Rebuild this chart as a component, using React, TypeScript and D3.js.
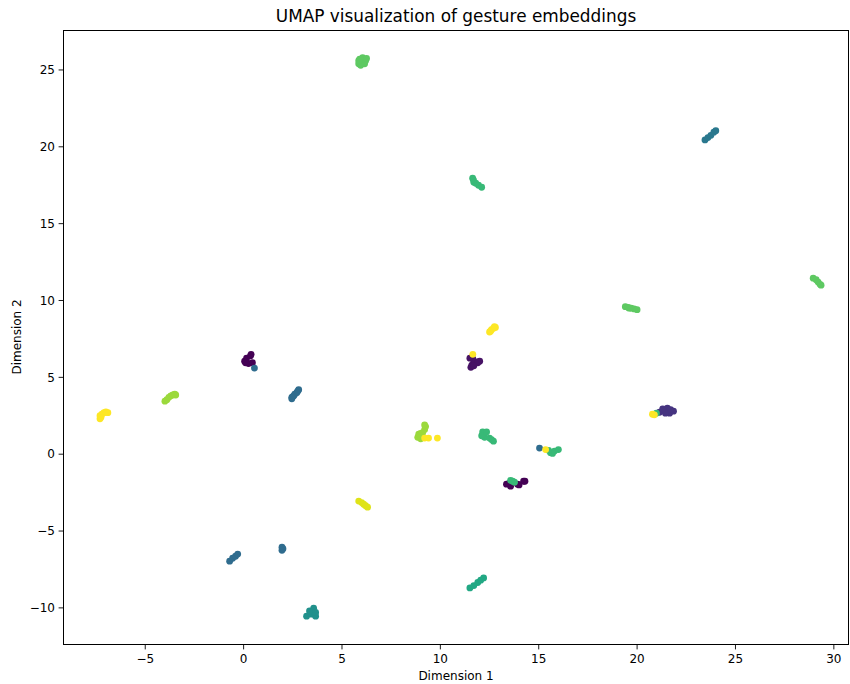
import React from "react";
import * as d3 from "d3";

const xs = [
  0.05, 0.15, 0.35, 0.38, 0.25, 0.45, 0.1,
  0.55,
  11.55, 11.6, 11.7, 11.85, 12.0, 11.65, 11.5, 11.9, 11.7,
  11.65,
  13.36, 13.57, 13.92, 14.23, 14.3, 14.0, 13.5,
  13.57, 13.67, 13.77,
  21.14, 21.34, 21.54, 21.65, 21.85, 21.44, 21.3, 21.7,
  20.98,
  20.78, 20.88,
  2.45, 2.5, 2.55, 2.6, 2.7, 2.75, 2.8, 2.45,
  -0.71, -0.56, -0.41, -0.3,
  1.95, 1.95, 2.0,
  23.45, 23.6, 23.75, 23.9, 24.0,
  15.04,
  3.2, 3.46, 3.66, 3.56, 3.5, 3.35, 3.66,
  11.5, 11.7, 11.9, 12.05, 12.2,
  11.64, 11.7, 11.94, 12.1, 11.8, 11.68,
  12.15, 12.25, 12.5, 12.7, 12.1, 12.35, 12.6,
  15.6, 15.8, 16.0, 15.7, 15.5,
  15.35,
  5.85, 5.9, 6.05, 6.2, 6.0, 6.15, 5.95, 6.25, 5.85,
  19.4, 19.55, 19.7, 19.85, 20.0, 19.6,
  28.95, 29.1, 29.2, 29.3, 29.35,
  -4.0, -3.9, -3.8, -3.7, -3.6, -3.45, -3.5,
  8.95, 9.0, 9.1, 9.2, 9.25, 9.2, 8.85, 9.0, 8.9,
  9.2, 9.4, 9.85,
  -7.3, -7.3, -7.2, -7.1, -6.9, -7.0, -7.25,
  12.5, 12.6, 12.7, 12.8, 12.55, 12.75,
  5.85, 6.0, 6.1, 6.2, 6.3,
];

const ys = [
  6.05, 6.25, 6.4, 6.5, 5.9, 5.95, 5.95,
  5.6,
  5.65, 5.8, 5.9, 6.0, 6.05, 6.2, 6.25, 5.95, 5.75,
  6.5,
  -1.95, -2.08, -1.95, -1.76, -1.76, -2.0, -1.9,
  -1.7, -1.76, -1.82,
  2.73, 2.86, 3.0, 2.67, 2.8, 2.67, 2.95, 2.9,
  2.67,
  2.6, 2.56,
  3.6, 3.75, 3.8, 3.9, 4.0, 4.1, 4.2, 3.7,
  -6.96, -6.77, -6.64, -6.5,
  -6.05, -6.25, -6.15,
  20.45, 20.6, 20.75, 20.95, 21.05,
  0.4,
  -10.54, -10.41, -10.54, -10.02, -10.2, -10.2, -10.3,
  -8.7, -8.55, -8.35, -8.2, -8.05,
  17.96, 17.7, 17.5, 17.37, 17.63, 17.85,
  1.45, 1.1, 1.05, 0.85, 1.2, 1.45, 0.95,
  0.1, 0.2, 0.3, 0.05, 0.25,
  0.3,
  25.4, 25.7, 25.8, 25.6, 25.5, 25.4, 25.3, 25.75, 25.6,
  9.6, 9.55, 9.5, 9.45, 9.4, 9.5,
  11.45, 11.35, 11.2, 11.05, 11.0,
  3.45, 3.55, 3.7, 3.8, 3.85, 3.85, 3.9,
  1.2, 1.35, 1.4, 1.6, 1.8, 1.9, 1.1, 1.0, 1.3,
  1.05, 1.05, 1.05,
  2.3, 2.5, 2.6, 2.7, 2.7, 2.75, 2.4,
  7.95, 8.1, 8.2, 8.25, 8.0, 8.3,
  -3.05, -3.15, -3.25, -3.35, -3.45,
];

const labels = [
  0, 0, 0, 0, 0, 0, 0,
  7,
  1, 1, 1, 1, 1, 1, 1, 1, 1,
  20,
  0, 0, 0, 0, 0, 0, 0,
  13.5, 13.5, 13.5,
  3, 3, 3, 3, 3, 3, 3, 3,
  13.5,
  20, 20,
  7, 7, 7, 7, 7, 7, 7, 7,
  7, 7, 7, 7,
  7, 7, 7,
  8, 8, 8, 8, 8,
  7,
  10, 10, 10, 10, 10, 10, 10,
  12, 12, 12, 12, 12,
  13.5, 13.5, 13.5, 13.5, 13.5, 13.5,
  13.5, 13.5, 13.5, 13.5, 13.5, 13.5, 13.5,
  13.5, 13.5, 13.5, 13.5, 13.5,
  20,
  15, 15, 15, 15, 15, 15, 15, 15, 15,
  15, 15, 15, 15, 15, 15,
  15, 15, 15, 15, 15,
  17, 17, 17, 17, 17, 17, 17,
  17, 17, 17, 17, 17, 17, 17, 17, 17,
  20, 20, 20,
  20, 20, 20, 20, 20, 20, 20,
  20, 20, 20, 20, 20, 20,
  19, 19, 19, 19, 19,
];

const xTicks = [-5, 0, 5, 10, 15, 20, 25, 30];
const yTicks = [-10, -5, 0, 5, 10, 15, 20, 25];
const title = "UMAP visualization of gesture embeddings";
const xLabel = "Dimension 1";
const yLabel = "Dimension 2";

export default function App() {
  const W = 850, H = 684;
  const L = 63, R = 849, T = 30, B = 644;
  const x = d3.scaleLinear().domain([-9.18, 30.77]).range([L, R]);
  const y = d3.scaleLinear().domain([-12.35, 27.6]).range([B, T]);
  const color = d3.scaleSequential(d3.interpolateViridis).domain([0, 20]);
  const font = "DejaVu Sans, sans-serif";
  const fmt = (v: number) => (v < 0 ? "\u2212" + Math.abs(v) : String(v));

  return (
    <svg width={W} height={H} style={{ position: "absolute", left: 0, top: 0, background: "#fff" }}>
      <text x={(L + R) / 2} y={22} textAnchor="middle" fontFamily={font} fontSize={16.9} fill="#000">
        {title}
      </text>
      <g>
        {xs.map((v, i) => (
          <circle key={i} cx={x(v)} cy={y(ys[i])} r={3.4} fill={color(labels[i])} />
        ))}
      </g>
      <rect x={L + 0.5} y={T + 0.5} width={R - L - 1} height={B - T} fill="none" stroke="#000" strokeWidth={1} />
      {xTicks.map((t) => (
        <g key={"x" + t}>
          <line x1={x(t)} x2={x(t)} y1={B + 0.5} y2={B + 5.4} stroke="#000" strokeWidth={0.9} />
          <text x={x(t)} y={B + 19} textAnchor="middle" fontFamily={font} fontSize={12} fill="#000">
            {fmt(t)}
          </text>
        </g>
      ))}
      {yTicks.map((t) => (
        <g key={"y" + t}>
          <line x1={L + 0.5} x2={L - 4.4} y1={y(t)} y2={y(t)} stroke="#000" strokeWidth={0.9} />
          <text x={L - 8} y={y(t) + 4.3} textAnchor="end" fontFamily={font} fontSize={12} fill="#000">
            {fmt(t)}
          </text>
        </g>
      ))}
      <text x={(L + R) / 2} y={680} textAnchor="middle" fontFamily={font} fontSize={12} fill="#000">
        {xLabel}
      </text>
      <text
        transform={`translate(21,${(T + B) / 2}) rotate(-90)`}
        textAnchor="middle"
        fontFamily={font}
        fontSize={12}
        fill="#000"
      >
        {yLabel}
      </text>
    </svg>
  );
}
